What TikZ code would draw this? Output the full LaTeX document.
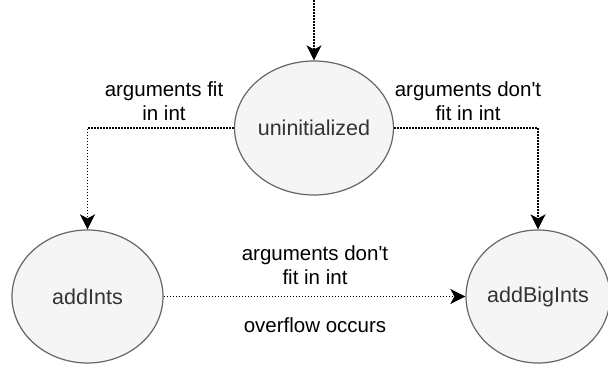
\documentclass[tikz,border=0pt]{standalone}
\usepackage{fontspec}
\setmainfont{Liberation Sans}[Ligatures=TeXOff]
\usetikzlibrary{arrows.meta,shapes.geometric}
\definecolor{nodefill}{HTML}{F5F5F5}
\definecolor{nodedraw}{HTML}{666666}
\definecolor{nodetext}{HTML}{333333}
\begin{document}
\begin{tikzpicture}[x=1pt,y=-1pt,
  state/.style={ellipse,draw=nodedraw,fill=nodefill,text=nodetext,line width=1.2pt,inner sep=0pt,font=\fontsize{21.5}{24}\selectfont},
  lbl/.style={align=center,font=\fontsize{20.5}{24}\selectfont,inner sep=0pt},
  arr/.style={line width=1.7pt,dash pattern=on 1.7pt off 1.3pt,-{Stealth[length=15pt,width=15pt,inset=4pt]}}]
\useasboundingbox (0,0) rectangle (608,366);
\node[state,minimum width=150pt,minimum height=134pt] (u) at (314,128) {uninitialized};
\node[state,minimum width=151pt,minimum height=133pt] (ai) at (87.5,296.5) {addInts};
\node[state,minimum width=144pt,minimum height=133pt] (abi) at (538,296.5) {addBigInts};
\coordinate (top) at (314,0);
\draw[arr] (top) -- (u.north);
\draw[arr] (u.west) -| (ai.north);
\draw[arr] (u.east) -| (abi.north);
\draw[arr] (ai.east) -- (abi.west);
\node[lbl] (l1) at (164,101) {arguments fit\\in int};
\node[lbl] (l2) at (468,101) {arguments don't\\fit in int};
\node[lbl] (l3) at (315,265) {arguments don't\\fit in int};
\node[lbl] (l4) at (315,325) {overflow occurs};
\end{tikzpicture}
\end{document}
